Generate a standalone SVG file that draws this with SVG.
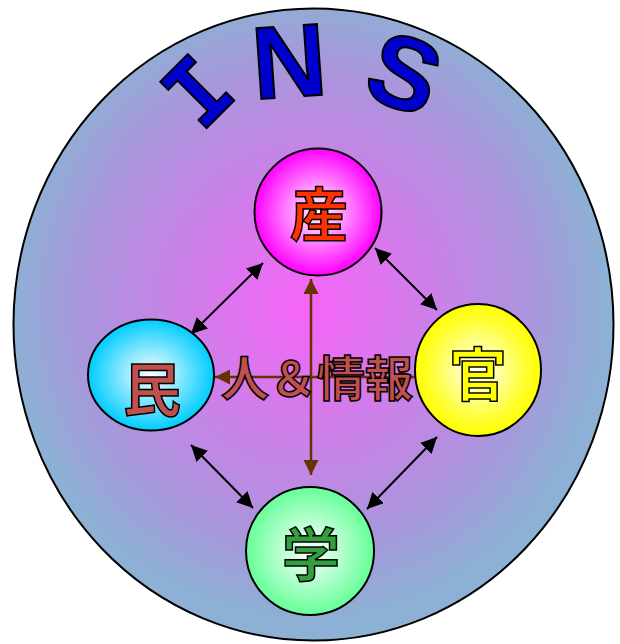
<svg xmlns="http://www.w3.org/2000/svg" width="620" height="644" viewBox="0 0 620 644">
<defs>
<radialGradient id="gBig" cx="0.49" cy="0.47" r="0.5">
<stop offset="0" stop-color="#f864f8"/>
<stop offset="0.75" stop-color="#a996dc"/>
<stop offset="1" stop-color="#8cb1d4"/>
</radialGradient>
<radialGradient id="gSan"><stop offset="0" stop-color="#ffffff"/><stop offset="1" stop-color="#ff00ff"/></radialGradient>
<radialGradient id="gMin"><stop offset="0" stop-color="#ffffff"/><stop offset="1" stop-color="#00ccff"/></radialGradient>
<radialGradient id="gKan"><stop offset="0" stop-color="#ffffff"/><stop offset="0.75" stop-color="#ffff33"/><stop offset="1" stop-color="#ffff00"/></radialGradient>
<radialGradient id="gGaku"><stop offset="0" stop-color="#ffffff"/><stop offset="1" stop-color="#66ff99"/></radialGradient>
<marker id="ab" viewBox="0 0 10 10" refX="10" refY="5" markerWidth="16" markerHeight="16" markerUnits="userSpaceOnUse" orient="auto-start-reverse">
<path d="M0,0 L10,5 L0,10 Z" fill="#000"/>
</marker>
<marker id="abr" viewBox="0 0 10 10" refX="10" refY="5" markerWidth="15" markerHeight="15" markerUnits="userSpaceOnUse" orient="auto-start-reverse">
<path d="M0,0 L10,5 L0,10 Z" fill="#663300"/>
</marker>
</defs>
<style>
.node{stroke:#000;stroke-width:2}
.lbl{font-family:"Noto Sans CJK JP","Noto Sans CJK SC",sans-serif;font-weight:bold;font-size:58px;text-anchor:middle;stroke:#000;stroke-width:1.5}
.ins{font-family:"Liberation Sans",Arial,sans-serif;font-weight:bold;font-size:103px;fill:#0000cc;stroke:#000;stroke-width:2;text-anchor:middle}
.blk{stroke:#000;stroke-width:2;fill:none;marker-start:url(#ab);marker-end:url(#ab)}
.brn{stroke:#663300;stroke-width:2.5;fill:none;marker-start:url(#abr);marker-end:url(#abr)}
</style>
<g id="background">
<ellipse cx="313.5" cy="324.5" rx="300" ry="316" fill="url(#gBig)" stroke="#000" stroke-width="2"/>
</g>
<g id="title">
<text class="ins" transform="translate(197,91) rotate(-45)" y="33" style="font-family:'DejaVu Sans Mono',monospace;font-size:90px">I</text>
<text class="ins" transform="translate(289,60) rotate(-4)" y="37">N</text>
<text class="ins" transform="translate(405,72) rotate(20)" y="37">S</text>
</g>
<g id="connectors">
<line class="blk" x1="263" y1="263" x2="191" y2="334"/>
<line class="blk" x1="375" y1="248" x2="437" y2="310"/>
<line class="blk" x1="191" y1="445" x2="253" y2="508"/>
<line class="blk" x1="437" y1="437" x2="367" y2="509"/>
<line class="brn" x1="311" y1="279" x2="311" y2="475"/>
<line class="brn" x1="215" y1="377" x2="414" y2="377"/>
</g>
<g id="center-label">
<text class="lbl" x="317" y="396" style="font-size:48px;fill:#c0504d">人＆情報</text>
</g>
<g id="node-san">
<circle class="node" cx="318" cy="212" r="63.5" fill="url(#gSan)"/>
<text class="lbl" x="319" y="236" fill="#ff3300">産</text>
</g>
<g id="node-min">
<ellipse class="node" cx="151" cy="375" rx="63" ry="55.5" fill="url(#gMin)"/>
<text class="lbl" x="152" y="411" fill="#c0504d">民</text>
</g>
<g id="node-kan">
<ellipse class="node" cx="478" cy="370" rx="63" ry="66" fill="url(#gKan)"/>
<text class="lbl" x="478" y="396" fill="#ffff00">官</text>
</g>
<g id="node-gaku">
<circle class="node" cx="310" cy="551" r="64" fill="url(#gGaku)"/>
<text class="lbl" x="311" y="576" fill="#33a040">学</text>
</g>
</svg>
